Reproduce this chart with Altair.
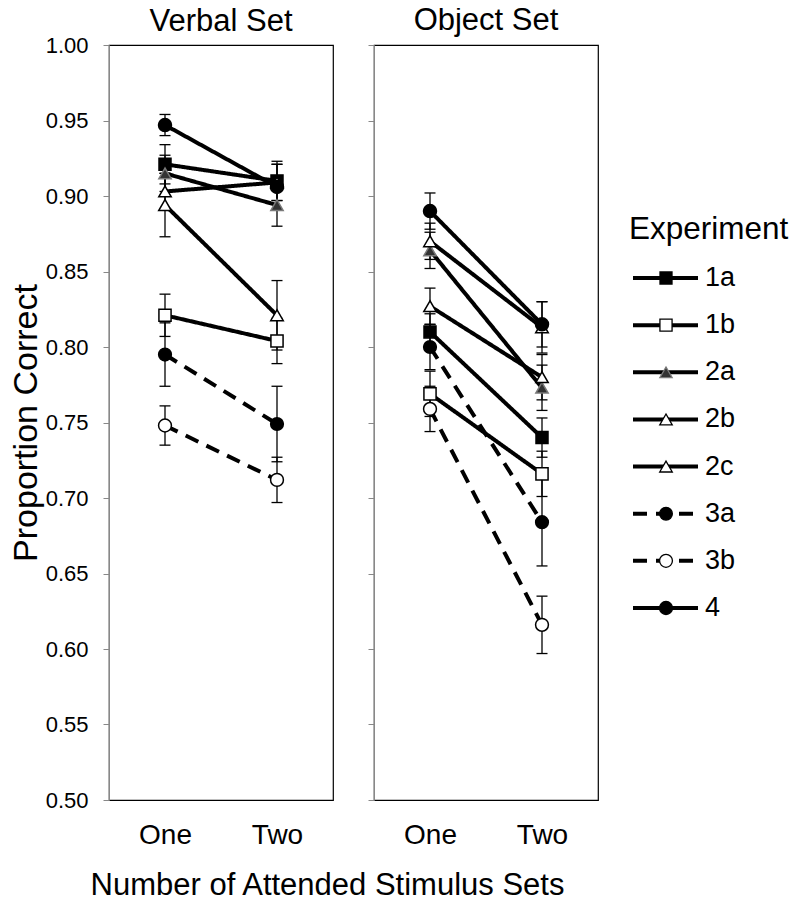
import altair as alt
import pandas as pd

FONT = "Liberation Sans"

experiments = ["1a", "1b", "2a", "2b", "2c", "3a", "3b", "4"]
conditions = ["One", "Two"]
y_ticks = [0.50, 0.55, 0.60, 0.65, 0.70, 0.75, 0.80, 0.85, 0.90, 0.95, 1.00]

verbal_one = [0.921, 0.821, 0.915, 0.903, 0.894, 0.795, 0.748, 0.947]
verbal_two = [0.910, 0.804, 0.894, 0.909, 0.821, 0.749, 0.712, 0.906]
object_one = [0.810, 0.769, 0.864, 0.827, 0.870, 0.800, 0.759, 0.890]
object_two = [0.740, 0.716, 0.773, 0.780, 0.813, 0.684, 0.616, 0.815]

verbal_one_se = [0.013, 0.014, 0.012, 0.012, 0.021, 0.021, 0.013, 0.007]
verbal_two_se = [0.013, 0.015, 0.014, 0.012, 0.023, 0.025, 0.015, 0.015]
object_one_se = [0.012, 0.015, 0.012, 0.012, 0.012, 0.015, 0.015, 0.012]
object_two_se = [0.013, 0.015, 0.015, 0.015, 0.017, 0.029, 0.019, 0.015]

# styles
marker_shapes = ["square", "square", "triangle-up", "triangle-up", "triangle-up", "circle", "circle", "circle"]
marker_fills = ["black", "white", "#333333", "white", "white", "black", "white", "black"]
marker_strokes = ["black", "black", "#7a7a7a", "black", "black", "black", "black", "black"]
marker_sizes = [144, 169, 144, 144, 324, 144, 144, 169]
legend_sizes = [100, 100, 90, 60, 80, 110, 60, 110]
line_dashes = [[1, 0]] * 5 + [[14, 9]] * 2 + [[1, 0]]
legend_dashes = [[1, 0]] * 5 + [[14, 13, 24, 6, 3, 100]] * 2 + [[1, 0]]

rows = []
for set_name, one, two, one_se, two_se in [
    ("Verbal Set", verbal_one, verbal_two, verbal_one_se, verbal_two_se),
    ("Object Set", object_one, object_two, object_one_se, object_two_se),
]:
    for i, e in enumerate(experiments):
        rows.append(dict(set=set_name, experiment=e, cond="One", value=one[i], se=one_se[i]))
        rows.append(dict(set=set_name, experiment=e, cond="Two", value=two[i], se=two_se[i]))
df = pd.DataFrame(rows)
df["lo"] = df["value"] - df["se"]
df["hi"] = df["value"] + df["se"]

H = 755
W = 224


def panel(set_name, first):
    base = alt.Chart(df).transform_filter(alt.datum.set == set_name)
    x = alt.X(
        "cond:N", sort=conditions,
        scale=alt.Scale(type="point", padding=0.5),
        axis=alt.Axis(title=None, labelAngle=0, ticks=False, domain=False,
                      labelFontSize=28, labelPadding=21, labelColor="black", labelFont=FONT),
    )
    y_axis = alt.Axis(
        values=y_ticks, format=".2f", title="Proportion Correct" if first else None,
        labels=first, grid=False, domainColor="#888888", tickColor="#888888",
        tickSize=6, labelFontSize=22, labelPadding=15, labelColor="black", labelFont=FONT,
        titleFontSize=34, titleFontWeight="normal", titlePadding=2, titleColor="black", titleFont=FONT,
    )
    ys = alt.Scale(domain=[0.5, 1.0], nice=False, zero=False)

    def Y(f):
        return alt.Y(f, scale=ys, axis=y_axis)

    rules = base.mark_rule(color="black", strokeWidth=1.3).encode(x=x, y=Y("lo:Q"), y2="hi:Q")
    cap_lo = base.mark_tick(color="black", thickness=1.3, size=11, opacity=1).encode(x=x, y=Y("lo:Q"))
    cap_hi = base.mark_tick(color="black", thickness=1.3, size=11, opacity=1).encode(x=x, y=Y("hi:Q"))
    lines = base.mark_line(color="black", strokeWidth=4).encode(
        x=x, y=Y("value:Q"),
        strokeDash=alt.StrokeDash("experiment:N", scale=alt.Scale(domain=experiments, range=line_dashes), legend=None),
        detail="experiment:N",
    )
    points = base.mark_point(filled=True, opacity=1, strokeWidth=1.5).encode(
        x=x, y=Y("value:Q"),
        shape=alt.Shape("experiment:N", scale=alt.Scale(domain=experiments, range=marker_shapes), legend=None),
        fill=alt.Fill("experiment:N", scale=alt.Scale(domain=experiments, range=marker_fills), legend=None),
        stroke=alt.Stroke("experiment:N", scale=alt.Scale(domain=experiments, range=marker_strokes), legend=None),
        size=alt.Size("experiment:N", scale=alt.Scale(domain=experiments, range=marker_sizes), legend=None),
    )
    return alt.layer(rules, cap_lo, cap_hi, lines, points).properties(
        width=W, height=H,
        title=alt.TitleParams(set_name, fontSize=31, font=FONT, fontWeight="normal", color="black",
                              offset=-4 if first else 8, frame="group"),
    )


verbal = panel("Verbal Set", True)
obj = panel("Object Set", False)

leg_df = pd.DataFrame({"experiment": experiments})
ly = alt.Y("experiment:N", sort=experiments,
           scale=alt.Scale(type="point", domain=experiments, range=[233, 563], padding=0), axis=None)
leg_base = alt.Chart(leg_df)
leg_lines = leg_base.mark_rule(color="black", strokeWidth=4).encode(
    x=alt.value(12), x2=alt.value(77), y=ly,
    strokeDash=alt.StrokeDash("experiment:N", scale=alt.Scale(domain=experiments, range=legend_dashes), legend=None),
)
leg_points = leg_base.mark_point(filled=True, opacity=1, strokeWidth=1.3).encode(
    x=alt.value(45), y=ly,
    shape=alt.Shape("experiment:N", scale=alt.Scale(domain=experiments, range=marker_shapes), legend=None),
    fill=alt.Fill("experiment:N", scale=alt.Scale(domain=experiments, range=marker_fills), legend=None),
    stroke=alt.Stroke("experiment:N", scale=alt.Scale(domain=experiments, range=marker_strokes), legend=None),
    size=alt.Size("experiment:N", scale=alt.Scale(domain=experiments, range=legend_sizes), legend=None),
)
leg_text = leg_base.mark_text(align="left", baseline="middle", fontSize=27, font=FONT, color="black").encode(
    x=alt.value(84), y=ly, text="experiment:N"
)
leg_title = alt.Chart(pd.DataFrame({"t": ["Experiment"]})).mark_text(
    align="left", baseline="middle", fontSize=31.5, font=FONT, color="black"
).encode(x=alt.value(8), y=alt.value(185), text="t:N")

legend = alt.layer(leg_lines, leg_points, leg_text, leg_title).properties(
    width=160, height=H, view=alt.ViewBackground(stroke=None)
)

panels = alt.hconcat(verbal, obj, spacing=32).properties(
    title=alt.TitleParams("Number of Attended Stimulus Sets", orient="bottom", anchor="start", dx=82,
                          fontSize=31, font=FONT, fontWeight="normal", color="black", offset=21)
)

chart = alt.hconcat(panels, legend, spacing=22).properties(
    padding={"left": 0, "top": -5, "right": 0, "bottom": -6}
).configure(font=FONT).configure_view(stroke="black", strokeWidth=1.2)

chart.save("out.html", embed_options={"renderer": "svg", "actions": False})
